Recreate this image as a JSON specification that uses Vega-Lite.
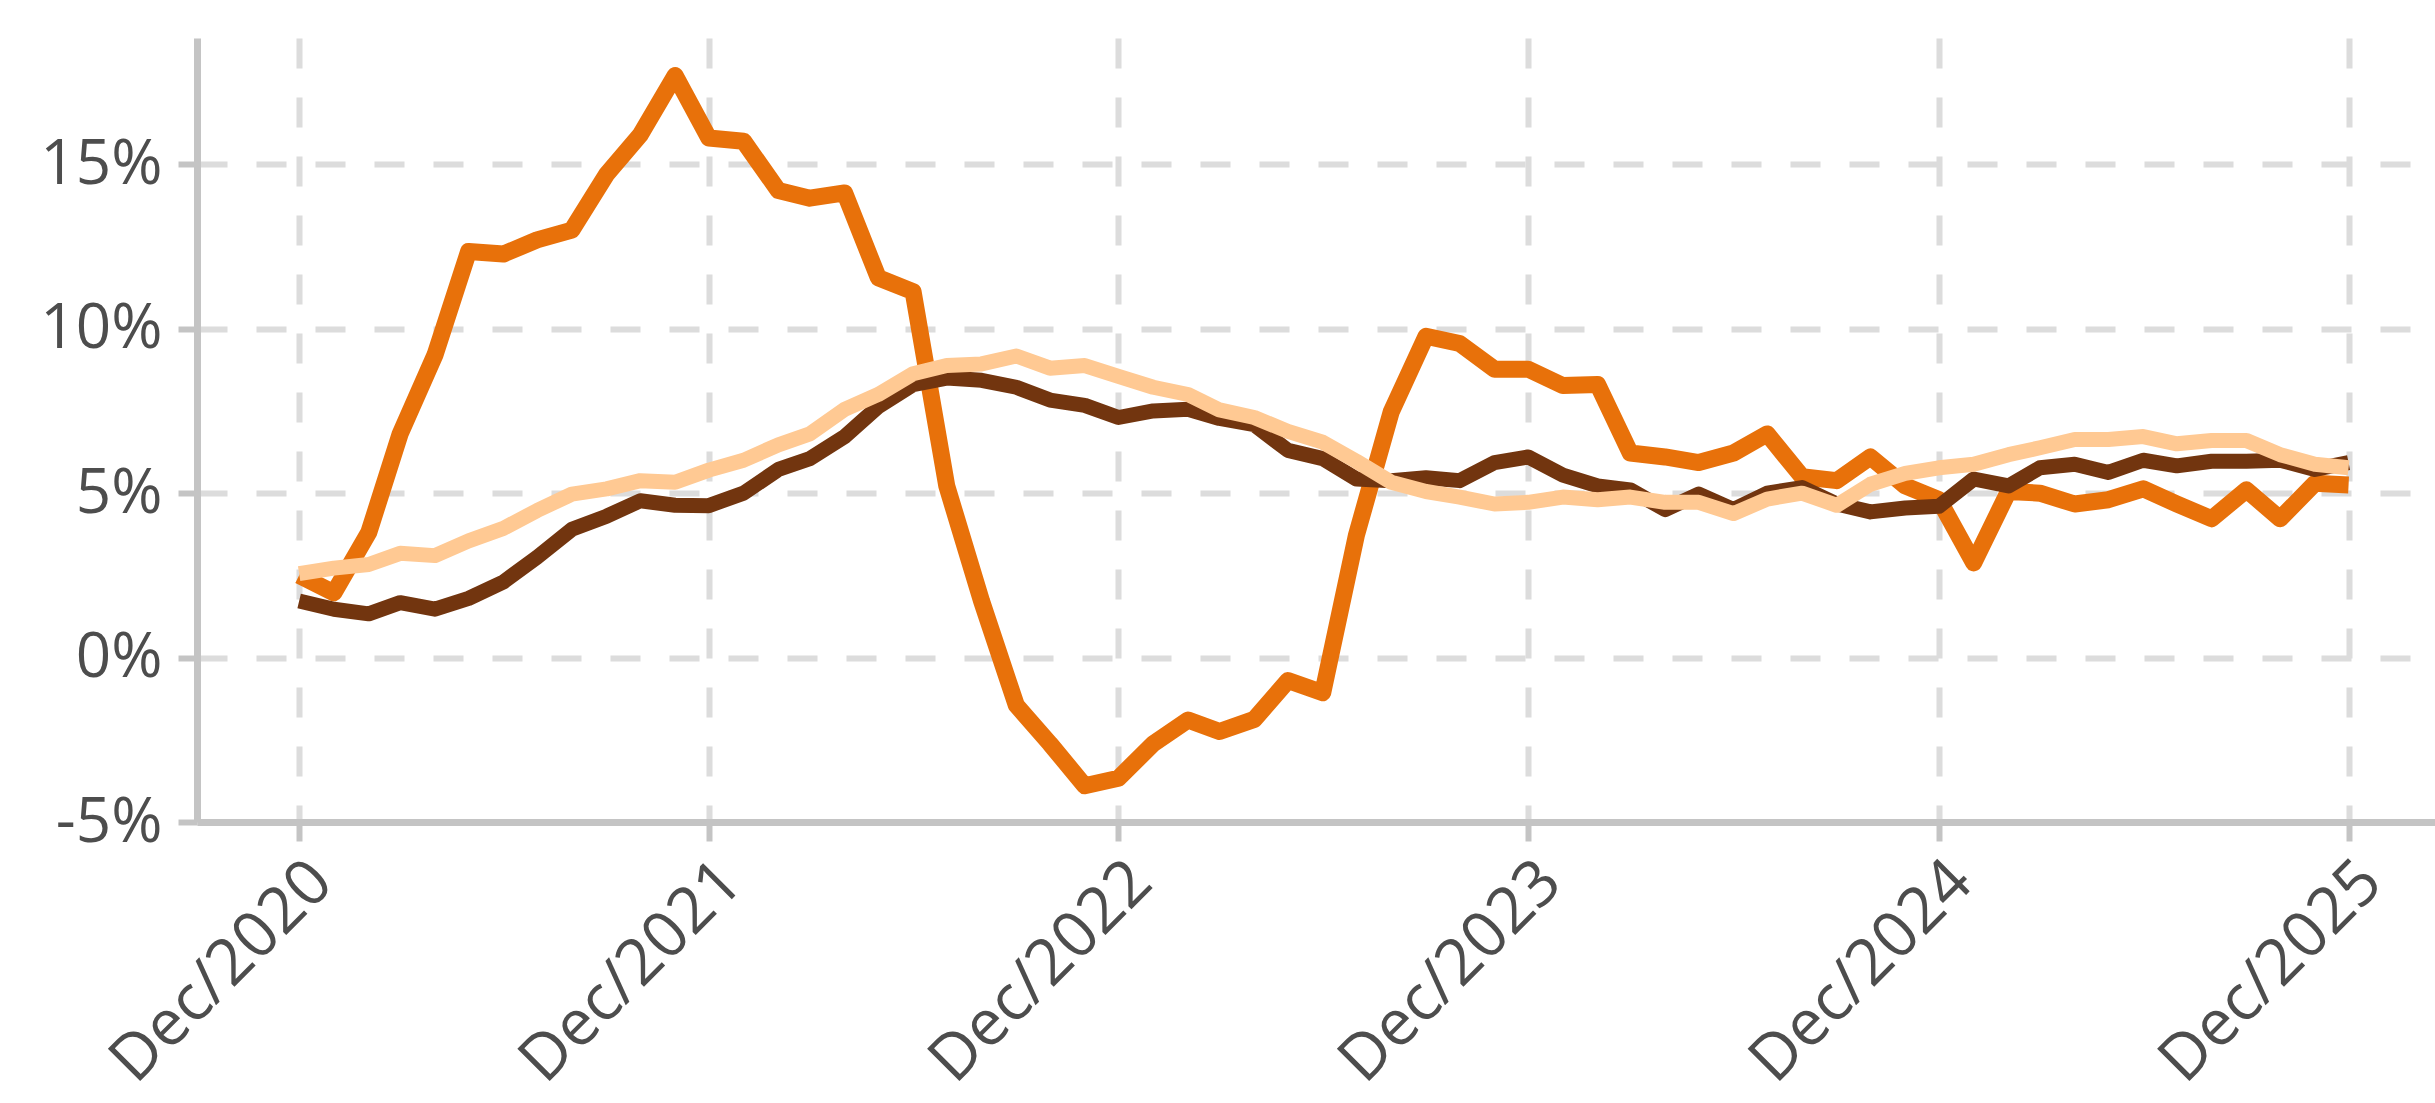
{
  "$schema": "https://vega.github.io/schema/vega-lite/v6.json",
  "width": 2238,
  "height": 784,
  "autosize": {"type": "none"},
  "padding": {"left": 197, "top": 38, "right": 0, "bottom": 281},
  "background": "white",
  "config": {
    "view": {"stroke": null},
    "axis": {
      "labelFont": "Open Sans",
      "labelFontSize": 62,
      "labelColor": "#4d4d4d",
      "labelLimit": 0,
      "domainColor": "#c4c4c4",
      "domainWidth": 7,
      "tickColor": "#c4c4c4",
      "tickWidth": 6,
      "tickSize": 19,
      "gridColor": "#dcdcdc",
      "gridWidth": 6,
      "gridDash": [30, 29],
      "title": null
    }
  },
  "datasets": {
    "orange": [
      {"date": "2020-12-01", "value": 2.5}, {"date": "2021-01-01", "value": 1.97}, {"date": "2021-02-01", "value": 3.8}, {"date": "2021-03-01", "value": 6.8}, {"date": "2021-04-01", "value": 9.2}, {"date": "2021-05-01", "value": 12.35}, {"date": "2021-06-01", "value": 12.27}, {"date": "2021-07-01", "value": 12.7}, {"date": "2021-08-01", "value": 13.0}, {"date": "2021-09-01", "value": 14.7}, {"date": "2021-10-01", "value": 15.9}, {"date": "2021-11-01", "value": 17.7}, {"date": "2021-12-01", "value": 15.8},
      {"date": "2022-01-01", "value": 15.7}, {"date": "2022-02-01", "value": 14.2}, {"date": "2022-03-01", "value": 13.97}, {"date": "2022-04-01", "value": 14.13}, {"date": "2022-05-01", "value": 11.55}, {"date": "2022-06-01", "value": 11.13}, {"date": "2022-07-01", "value": 5.22}, {"date": "2022-08-01", "value": 1.72}, {"date": "2022-09-01", "value": -1.45}, {"date": "2022-10-01", "value": -2.62}, {"date": "2022-11-01", "value": -3.9}, {"date": "2022-12-01", "value": -3.67},
      {"date": "2023-01-01", "value": -2.62}, {"date": "2023-02-01", "value": -1.9}, {"date": "2023-03-01", "value": -2.25}, {"date": "2023-04-01", "value": -1.88}, {"date": "2023-05-01", "value": -0.7}, {"date": "2023-06-01", "value": -1.07}, {"date": "2023-07-01", "value": 3.72}, {"date": "2023-08-01", "value": 7.47}, {"date": "2023-09-01", "value": 9.77}, {"date": "2023-10-01", "value": 9.55}, {"date": "2023-11-01", "value": 8.77}, {"date": "2023-12-01", "value": 8.77},
      {"date": "2024-01-01", "value": 8.27}, {"date": "2024-02-01", "value": 8.3}, {"date": "2024-03-01", "value": 6.22}, {"date": "2024-04-01", "value": 6.1}, {"date": "2024-05-01", "value": 5.93}, {"date": "2024-06-01", "value": 6.22}, {"date": "2024-07-01", "value": 6.8}, {"date": "2024-08-01", "value": 5.5}, {"date": "2024-09-01", "value": 5.38}, {"date": "2024-10-01", "value": 6.1}, {"date": "2024-11-01", "value": 5.22}, {"date": "2024-12-01", "value": 4.8},
      {"date": "2025-01-01", "value": 2.88}, {"date": "2025-02-01", "value": 5.05}, {"date": "2025-03-01", "value": 5.0}, {"date": "2025-04-01", "value": 4.67}, {"date": "2025-05-01", "value": 4.8}, {"date": "2025-06-01", "value": 5.13}, {"date": "2025-07-01", "value": 4.67}, {"date": "2025-08-01", "value": 4.22}, {"date": "2025-09-01", "value": 5.1}, {"date": "2025-10-01", "value": 4.22}, {"date": "2025-11-01", "value": 5.3}, {"date": "2025-12-01", "value": 5.25}
    ],
    "brown": [
      {"date": "2020-12-01", "value": 1.72}, {"date": "2021-01-01", "value": 1.47}, {"date": "2021-02-01", "value": 1.33}, {"date": "2021-03-01", "value": 1.67}, {"date": "2021-04-01", "value": 1.47}, {"date": "2021-05-01", "value": 1.8}, {"date": "2021-06-01", "value": 2.3}, {"date": "2021-07-01", "value": 3.05}, {"date": "2021-08-01", "value": 3.9}, {"date": "2021-09-01", "value": 4.3}, {"date": "2021-10-01", "value": 4.77}, {"date": "2021-11-01", "value": 4.63}, {"date": "2021-12-01", "value": 4.62},
      {"date": "2022-01-01", "value": 5.0}, {"date": "2022-02-01", "value": 5.72}, {"date": "2022-03-01", "value": 6.05}, {"date": "2022-04-01", "value": 6.72}, {"date": "2022-05-01", "value": 7.63}, {"date": "2022-06-01", "value": 8.3}, {"date": "2022-07-01", "value": 8.5}, {"date": "2022-08-01", "value": 8.43}, {"date": "2022-09-01", "value": 8.22}, {"date": "2022-10-01", "value": 7.83}, {"date": "2022-11-01", "value": 7.67}, {"date": "2022-12-01", "value": 7.3},
      {"date": "2023-01-01", "value": 7.5}, {"date": "2023-02-01", "value": 7.55}, {"date": "2023-03-01", "value": 7.27}, {"date": "2023-04-01", "value": 7.08}, {"date": "2023-05-01", "value": 6.3}, {"date": "2023-06-01", "value": 6.05}, {"date": "2023-07-01", "value": 5.43}, {"date": "2023-08-01", "value": 5.38}, {"date": "2023-09-01", "value": 5.47}, {"date": "2023-10-01", "value": 5.38}, {"date": "2023-11-01", "value": 5.93}, {"date": "2023-12-01", "value": 6.1},
      {"date": "2024-01-01", "value": 5.55}, {"date": "2024-02-01", "value": 5.22}, {"date": "2024-03-01", "value": 5.1}, {"date": "2024-04-01", "value": 4.5}, {"date": "2024-05-01", "value": 4.97}, {"date": "2024-06-01", "value": 4.5}, {"date": "2024-07-01", "value": 5.0}, {"date": "2024-08-01", "value": 5.17}, {"date": "2024-09-01", "value": 4.67}, {"date": "2024-10-01", "value": 4.43}, {"date": "2024-11-01", "value": 4.55}, {"date": "2024-12-01", "value": 4.6},
      {"date": "2025-01-01", "value": 5.43}, {"date": "2025-02-01", "value": 5.22}, {"date": "2025-03-01", "value": 5.77}, {"date": "2025-04-01", "value": 5.88}, {"date": "2025-05-01", "value": 5.63}, {"date": "2025-06-01", "value": 6.0}, {"date": "2025-07-01", "value": 5.83}, {"date": "2025-08-01", "value": 5.97}, {"date": "2025-09-01", "value": 5.97}, {"date": "2025-10-01", "value": 6.0}, {"date": "2025-11-01", "value": 5.72}, {"date": "2025-12-01", "value": 5.93}
    ],
    "light": [
      {"date": "2020-12-01", "value": 2.55}, {"date": "2021-01-01", "value": 2.72}, {"date": "2021-02-01", "value": 2.83}, {"date": "2021-03-01", "value": 3.17}, {"date": "2021-04-01", "value": 3.1}, {"date": "2021-05-01", "value": 3.55}, {"date": "2021-06-01", "value": 3.93}, {"date": "2021-07-01", "value": 4.47}, {"date": "2021-08-01", "value": 4.97}, {"date": "2021-09-01", "value": 5.13}, {"date": "2021-10-01", "value": 5.38}, {"date": "2021-11-01", "value": 5.33}, {"date": "2021-12-01", "value": 5.7},
      {"date": "2022-01-01", "value": 6.0}, {"date": "2022-02-01", "value": 6.47}, {"date": "2022-03-01", "value": 6.8}, {"date": "2022-04-01", "value": 7.55}, {"date": "2022-05-01", "value": 8.0}, {"date": "2022-06-01", "value": 8.63}, {"date": "2022-07-01", "value": 8.88}, {"date": "2022-08-01", "value": 8.93}, {"date": "2022-09-01", "value": 9.17}, {"date": "2022-10-01", "value": 8.8}, {"date": "2022-11-01", "value": 8.88}, {"date": "2022-12-01", "value": 8.55},
      {"date": "2023-01-01", "value": 8.22}, {"date": "2023-02-01", "value": 8.0}, {"date": "2023-03-01", "value": 7.53}, {"date": "2023-04-01", "value": 7.3}, {"date": "2023-05-01", "value": 6.88}, {"date": "2023-06-01", "value": 6.55}, {"date": "2023-07-01", "value": 5.97}, {"date": "2023-08-01", "value": 5.33}, {"date": "2023-09-01", "value": 5.05}, {"date": "2023-10-01", "value": 4.88}, {"date": "2023-11-01", "value": 4.67}, {"date": "2023-12-01", "value": 4.72},
      {"date": "2024-01-01", "value": 4.88}, {"date": "2024-02-01", "value": 4.8}, {"date": "2024-03-01", "value": 4.88}, {"date": "2024-04-01", "value": 4.72}, {"date": "2024-05-01", "value": 4.72}, {"date": "2024-06-01", "value": 4.38}, {"date": "2024-07-01", "value": 4.82}, {"date": "2024-08-01", "value": 5.0}, {"date": "2024-09-01", "value": 4.63}, {"date": "2024-10-01", "value": 5.27}, {"date": "2024-11-01", "value": 5.6}, {"date": "2024-12-01", "value": 5.77},
      {"date": "2025-01-01", "value": 5.88}, {"date": "2025-02-01", "value": 6.17}, {"date": "2025-03-01", "value": 6.38}, {"date": "2025-04-01", "value": 6.63}, {"date": "2025-05-01", "value": 6.63}, {"date": "2025-06-01", "value": 6.72}, {"date": "2025-07-01", "value": 6.5}, {"date": "2025-08-01", "value": 6.6}, {"date": "2025-09-01", "value": 6.6}, {"date": "2025-10-01", "value": 6.17}, {"date": "2025-11-01", "value": 5.88}, {"date": "2025-12-01", "value": 5.77}
    ]
  },
  "encoding": {
    "x": {
      "field": "date",
      "type": "temporal",
      "scale": {
        "type": "utc",
        "domain": [{"year": 2020, "month": 9, "date": 1, "utc": true}, {"year": 2026, "month": 2, "date": 16, "utc": true}]
      },
      "axis": {
        "values": [
          {"year": 2020, "month": 12, "date": 1, "utc": true},
          {"year": 2021, "month": 12, "date": 1, "utc": true},
          {"year": 2022, "month": 12, "date": 1, "utc": true},
          {"year": 2023, "month": 12, "date": 1, "utc": true},
          {"year": 2024, "month": 12, "date": 1, "utc": true},
          {"year": 2025, "month": 12, "date": 1, "utc": true}
        ],
        "labelExpr": "utcFormat(datum.value, '%b/%Y')",
        "labelAngle": -45,
        "labelFontSize": 64,
        "labelPadding": 8,
        "grid": true
      }
    },
    "y": {
      "field": "value",
      "type": "quantitative",
      "scale": {"domain": [-5, 18.84], "nice": false, "zero": false},
      "axis": {
        "values": [-5, 0, 5, 10, 15],
        "labelExpr": "datum.value + '%'",
        "labelPadding": 16,
        "grid": true
      }
    }
  },
  "layer": [
    {"data": {"name": "orange"}, "mark": {"type": "line", "color": "#E8710A", "strokeWidth": 17, "strokeJoin": "round", "strokeCap": "butt", "clip": true}},
    {"data": {"name": "brown"}, "mark": {"type": "line", "color": "#72350F", "strokeWidth": 15, "strokeJoin": "round", "strokeCap": "butt", "clip": true}},
    {"data": {"name": "light"}, "mark": {"type": "line", "color": "#FFC993", "strokeWidth": 15, "strokeJoin": "round", "strokeCap": "butt", "clip": true}}
  ]
}
